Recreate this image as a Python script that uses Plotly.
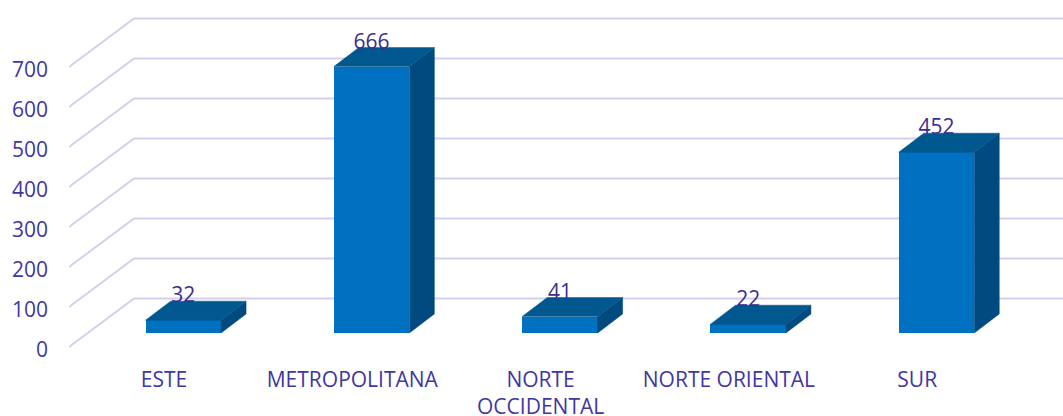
import plotly.graph_objects as go

categories = ["ESTE", "METROPOLITANA", "NORTE<br>OCCIDENTAL", "NORTE ORIENTAL", "SUR"]
values = [32, 666, 41, 22, 452]
y_ticks = [0, 100, 200, 300, 400, 500, 600, 700]

W, H = 1063, 416
LEFT, AXIS_BOTTOM = 69, 365
ZERO_PX, PX_PER_UNIT = 350, 0.4
CAT0_PX, CAT_STEP = 164, 188.3

px_x = lambda p: (p - CAT0_PX) / CAT_STEP
len_x = lambda p: p / CAT_STEP
len_y = lambda p: p / PX_PER_UNIT

WALL_DX, WALL_DY = len_x(65), len_y(48.5)
FLOOR_LIFT = len_y(3)
BAR_SHIFT, BAR_BASE = len_x(19.3), len_y(17)
BAR_W = len_x(75.5)
DEPTH_DX, DEPTH_DY = len_x(25), len_y(19)
LABEL_GAP = len_y(23)

FRONT, TOP, SIDE = "#0070C0", "#00588F", "#004A80"
GRID, AXIS_TEXT, DATA_TEXT = "#D3D0EE", "#3F37A3", "#3A2E90"
FONT = "Open Sans"
FS = 21

xs = list(range(len(values)))
x_right = px_x(W)

fig = go.Figure()
fig.add_trace(go.Bar(x=[i + BAR_SHIFT for i in xs], y=values, base=BAR_BASE, width=BAR_W,
                     marker=dict(color=FRONT, line=dict(width=0)), showlegend=False,
                     hovertext=categories, hoverinfo="text+y"))

for i, v in zip(xs, values):
    l = i + BAR_SHIFT - BAR_W / 2
    r = i + BAR_SHIFT + BAR_W / 2
    t = BAR_BASE + v
    fig.add_trace(go.Scatter(
        x=[r, r + DEPTH_DX, r + DEPTH_DX, r, r],
        y=[BAR_BASE, BAR_BASE + DEPTH_DY, t + DEPTH_DY, t, BAR_BASE],
        mode="lines", fill="toself", fillcolor=SIDE, line=dict(width=0.5, color=SIDE),
        hoverinfo="skip", showlegend=False))
    fig.add_trace(go.Scatter(
        x=[l, l + DEPTH_DX, r + DEPTH_DX, r, l],
        y=[t, t + DEPTH_DY, t + DEPTH_DY, t, t],
        mode="lines", fill="toself", fillcolor=TOP, line=dict(width=0.5, color=TOP),
        hoverinfo="skip", showlegend=False))

fig.add_trace(go.Scatter(
    x=[i + BAR_SHIFT for i in xs],
    y=[BAR_BASE + v + LABEL_GAP for v in values],
    text=[str(v) for v in values], mode="text", textposition="middle center",
    textfont=dict(family=FONT, size=FS, color=DATA_TEXT),
    hoverinfo="skip", showlegend=False))

shapes = []
for tick in y_ticks:
    y0 = tick + FLOOR_LIFT
    path = (f"M {px_x(LEFT)} {y0} L {px_x(LEFT) + WALL_DX} {y0 + WALL_DY} "
            f"L {x_right} {y0 + WALL_DY}")
    shapes.append(dict(type="path", xref="x", yref="y", path=path, layer="below",
                       line=dict(color=GRID, width=2)))

fig.update_layout(
    width=W, height=H, autosize=False,
    margin=dict(l=LEFT, r=0, t=0, b=H - AXIS_BOTTOM, autoexpand=False),
    paper_bgcolor="white", plot_bgcolor="white",
    font=dict(family=FONT, size=FS, color=AXIS_TEXT),
    shapes=shapes, showlegend=False, bargap=0,
    xaxis=dict(range=[px_x(LEFT), x_right], tickmode="array", tickvals=xs, ticktext=categories,
               showgrid=False, zeroline=False, showline=False, ticks="", tickangle=0,
               tickfont=dict(family=FONT, size=FS, color=AXIS_TEXT)),
    yaxis=dict(range=[(ZERO_PX - AXIS_BOTTOM) / PX_PER_UNIT, ZERO_PX / PX_PER_UNIT],
               tickmode="array", tickvals=y_ticks, ticktext=[str(t) for t in y_ticks],
               showgrid=False, zeroline=False, showline=False, ticks="",
               ticklabelstandoff=20,
               tickfont=dict(family=FONT, size=FS, color=AXIS_TEXT)),
)

fig.write_html("out.html", config={"displayModeBar": False},
               post_script="document.body.style.margin='0';document.body.style.overflow='hidden';")
